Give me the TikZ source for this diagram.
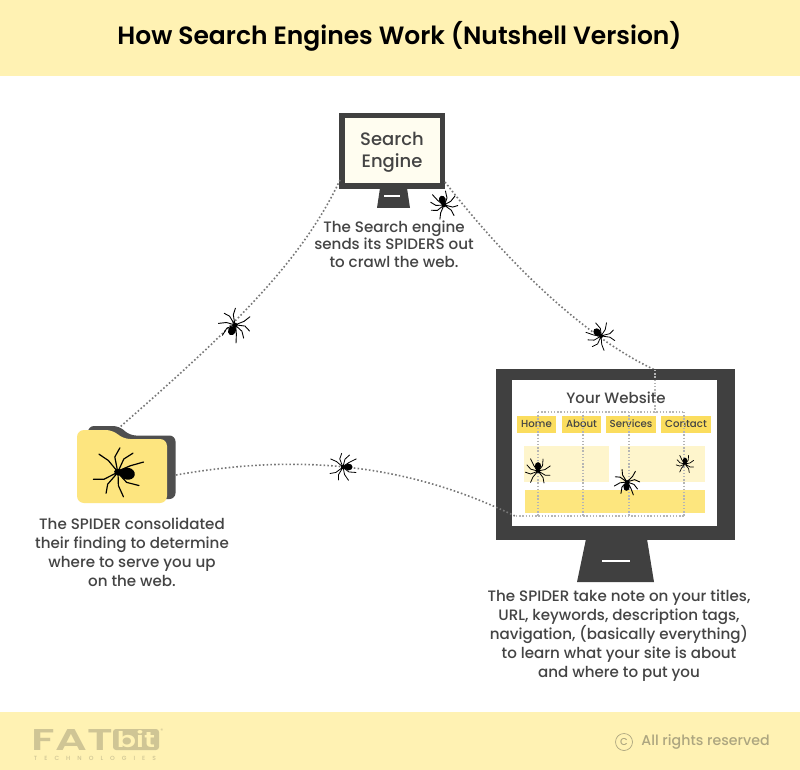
\documentclass[tikz,border=0pt]{standalone}
\usepackage{fontspec}
\setmainfont{Poppins Medium}[BoldFont={Poppins SemiBold}]
\usetikzlibrary{calc}
\definecolor{band}{HTML}{FFF2B3}
\definecolor{ink}{HTML}{444444}
\definecolor{monitor}{HTML}{404040}
\definecolor{cream}{HTML}{FFFDF0}
\definecolor{menuy}{HTML}{FBDD5E}
\definecolor{panel}{HTML}{FEF5CC}
\definecolor{bar}{HTML}{FDE67E}
\definecolor{folderf}{HTML}{FDE57F}
\definecolor{logoc}{HTML}{CFC595}
\definecolor{rightsc}{HTML}{ADA680}
\definecolor{dotc}{HTML}{777777}
\definecolor{griddot}{HTML}{B5B5B5}
\tikzset{
  x=1pt,y=-1pt,
  crawl/.style={draw=dotc,line width=1.6pt,dash pattern=on 1.6pt off 2.2pt},
  griddots/.style={draw=griddot,line width=1.4pt,dash pattern=on 1.4pt off 1.8pt},
  caption/.style={text=ink,align=center,font=\fontsize{15.1}{19}\selectfont,inner sep=0pt},
  menuitem/.style={fill=menuy,text=ink,font=\fontsize{10.2}{12}\selectfont,inner sep=0pt,minimum height=17pt,text height=9pt,text depth=1.5pt,anchor=center},
  pics/spider/.style={code={
    \fill[black] (0,.42) ellipse [x radius=.26,y radius=.32];
    \fill[black] (0,.03) ellipse [x radius=.14,y radius=.2];
    \draw[black,line cap=round,line join=round]
      (-.08,-.1) -- (-.42,-.55) -- (-.5,-1.0)
      (-.1,-.05) -- (-.6,-.35) -- (-1,-.35)
      (-.1,.02) -- (-.58,.12) -- (-1.02,.42)
      (-.1,.08) -- (-.38,.45) -- (-.42,1)
      (.08,-.1) -- (.42,-.5) -- (.62,-.95)
      (.1,-.05) -- (.62,-.25) -- (1.05,-.1)
      (.1,.02) -- (.6,.15) -- (.92,.5)
      (.1,.08) -- (.36,.48) -- (.62,1.02);
  }}
}
\begin{document}
\begin{tikzpicture}
\path[use as bounding box,fill=white] (0,0) rectangle (800,770);
% bands
\fill[band] (0,0) rectangle (800,76);
\fill[band] (0,712) rectangle (800,770);
\node[text=black,inner sep=0pt,font=\fontsize{25}{28}\selectfont\bfseries] (title) at (399.5,36) {How Search Engines Work (Nutshell Version)};
% named ends
\coordinate (seL) at (340,180);
\coordinate (seR) at (445,182);
\coordinate (foT) at (120,427);
\coordinate (foR) at (176,475);
\coordinate (wsT) at (655,370);
\coordinate (wsG) at (655,412);
\coordinate (wsB) at (515,516);
% search engine monitor
\fill[monitor] (380,188) -- (407,188) -- (410,208) -- (377,208) -- cycle;
\fill[monitor] (339,113) rectangle (445,189);
\fill[cream] (345,118) rectangle (440,183);
\node[inner sep=0pt,text=ink,align=center,font=\fontsize{18}{22}\selectfont] (search) at (392,152.5) {Search\\Engine};
\draw[white,line width=1.5pt] (384,196) -- (400,196);
% connectors
\draw[crawl] (seL) .. controls (300,265) and (225,335) .. (foT);
\draw[crawl] (seR) .. controls (490,240) and (570,330) .. (wsT);
% website monitor
\fill[monitor] (586,539) -- (647,539) -- (654,582) -- (577,582) -- cycle;
\fill[monitor] (496,369) rectangle (735,540);
\fill[white] (512,380) rectangle (717,526);
\draw[white,line width=1.5pt] (602,561) -- (630,561);
\node[text=ink,inner sep=0pt,font=\fontsize{15}{16}\selectfont] (yw) at (616,398) {Your Website};
\node[menuitem,minimum width=39pt] (home) at (536.5,424) {Home};
\node[menuitem,minimum width=39pt] (about) at (581.5,424) {About};
\node[menuitem,minimum width=50pt] (services) at (631,424) {Services};
\node[menuitem,minimum width=50pt] (contact) at (686,424) {Contact};
\fill[panel] (524,446) rectangle (609,482);
\fill[panel] (620,446) rectangle (705,482);
\fill[bar] (525,490) rectangle (705,513);
% website dotted grid
\draw[griddots] (538,412) -- (684,412) (516,516) -- (684,516);
\draw[griddots] (538,412) -- (538,516) (583,412) -- (583,516) (629,412) -- (629,516) (684,412) -- (684,516);
\draw[griddots] (wsT) -- (wsG);
\draw[crawl] (foR) .. controls (290,455) and (400,460) .. (wsB);
% folder
\fill[monitor!92!white,rounded corners=6pt] (88,499) -- (88,426) -- (119,426) -- (130,435.5) -- (175.5,435.5) -- (175.5,499) -- cycle;
\fill[folderf,rounded corners=7pt] (77,503) -- (77,430) -- (113,430) -- (123,439) -- (167,439) -- (167,503) -- cycle;
% spiders
\pic[scale=13,rotate=197,line width=.9pt] (sp1) at (444,205) {spider};
\pic[scale=15,rotate=-28,line width=.9pt] (sp2) at (235,325) {spider};
\pic[scale=13,rotate=225,line width=.8pt] (sp3) at (601,336) {spider};
\pic[scale=13,rotate=90,line width=.8pt] (sp4) at (343,467) {spider};
\pic[scale=12,rotate=180,line width=.8pt] (sp5) at (538,471) {spider};
\pic[scale=12,rotate=-5,line width=.9pt] (sp6) at (627,482) {spider};
\pic[scale=8.5,rotate=180,line width=.7pt] (sp7) at (685,464) {spider};
\pic[scale=23,rotate=80,line width=1.2pt] (sp8) at (118,472) {spider};
% captions
\node[caption,font=\fontsize{15.1}{17.6}\selectfont] (c1) at (394,244) {The Search engine\\sends its SPIDERS out\\to crawl the web.};
\node[caption] (c2) at (132,552.5) {The SPIDER consolidated\\their finding to determine\\where to serve you up\\on the web.};
\node[caption] (c3) at (619,636) {The SPIDER take note on your titles,\\URL, keywords, description tags,\\navigation, (basically everything)\\to learn what your site is about\\and where to put you};
% footer
\node[inner sep=0pt,text=logoc,font=\bfseries] (fat) at (72.5,740) {\resizebox{81pt}{21pt}{FAT}};
\node[fill=logoc,rounded corners=3pt,minimum width=46pt,minimum height=21pt,inner sep=0pt,text=band,font=\bfseries] (bit) at (136,739.5) {\resizebox{38pt}{17pt}{bit}};
\node[inner sep=0pt,text=logoc,font=\fontsize{6}{7}\selectfont\addfontfeature{LetterSpace=117}] (tech) at (95,758) {TECHNOLOGIES};
\node[inner sep=0pt,text=logoc,font=\fontsize{5}{5}\selectfont] (reg) at (162,731) {®};
\node[circle,draw=rightsc,line width=.7pt,minimum size=17pt,inner sep=0pt,text=rightsc,font=\fontsize{10}{10}\selectfont] (cc) at (624,742) {C};
\node[inner sep=0pt,text=rightsc,font=\fontsize{14.2}{16}\selectfont] (rights) at (705.5,742) {All rights reserved};
\end{tikzpicture}
\end{document}
